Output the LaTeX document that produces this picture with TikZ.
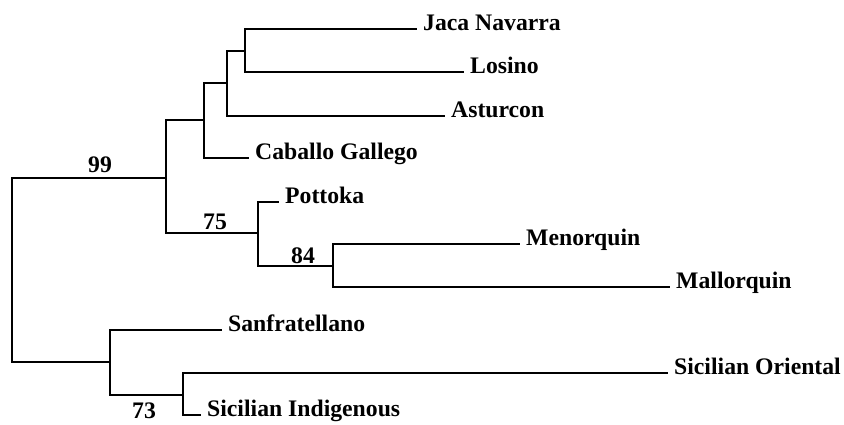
\documentclass[tikz,border=0pt]{standalone}
\usepackage{fontspec}
\setmainfont{Liberation Serif}
\begin{document}
\begin{tikzpicture}[x=1pt,y=-1pt,
  every node/.style={font=\fontsize{23.7pt}{28pt}\selectfont\bfseries},
  leaf/.style={anchor=west,inner xsep=6pt,inner ysep=0pt,text height=0.66em,text depth=0.36em},
  boot/.style={inner sep=0pt},
  br/.style={line width=1.3pt,line join=miter},
  brthick/.style={line width=2pt,line join=miter}]
\useasboundingbox (0,0) rectangle (844,424);
% internal nodes
\coordinate (root) at (12,270);
\coordinate (n4) at (166,178);
\coordinate (n3) at (204,120);
\coordinate (n2) at (227,83);
\coordinate (n1) at (245,51);
\coordinate (n5) at (258,233);
\coordinate (n6) at (333,266);
\coordinate (n7) at (110,362);
\coordinate (n8) at (183,395);
% leaves
\node[leaf] (jaca) at (417,29) {Jaca Navarra};
\node[leaf] (losino) at (464,72) {Losino};
\node[leaf] (asturcon) at (445,116) {Asturcon};
\node[leaf] (caballo) at (249,158) {Caballo Gallego};
\node[leaf] (pottoka) at (279,202) {Pottoka};
\node[leaf] (menorquin) at (520,244) {Menorquin};
\node[leaf] (mallorquin) at (670,287) {Mallorquin};
\node[leaf] (sanfra) at (222,330) {Sanfratellano};
\node[leaf] (sicor) at (668,373) {Sicilian Oriental};
\node[leaf] (sicind) at (201,415) {Sicilian Indigenous};
% bootstrap values
\node[boot] (b99) at (100,165) {99};
\node[boot] (b75) at (215,222) {75};
\node[boot] (b84) at (303,256) {84};
\node[boot] (b73) at (144,411) {73};
% branches
\draw[br] (root) |- (n4);
\draw[br] (root) |- (n7);
\draw[br] (n4) |- (n3);
\draw[br] (n4) |- (n5);
\draw[br] (n3) |- (n2);
\draw[br] (n3) |- (caballo.west);
\draw[brthick] (n2) |- (n1);
\draw[brthick] (n2) |- (asturcon.west);
\draw[br] (n1) |- (jaca.west);
\draw[br] (n1) |- (losino.west);
\draw[br] (n5) |- (pottoka.west);
\draw[brthick] (n5 |- pottoka.west) -- (pottoka.west);
\draw[br] (n5) |- (n6);
\draw[brthick] (n5 |- n6) -- (n6);
\draw[br] (n6) |- (menorquin.west);
\draw[br] (n6) |- (mallorquin.west);
\draw[brthick] (n7) |- (sanfra.west);
\draw[brthick] (n7) |- (n8);
\draw[br] (n8) |- (sicor.west);
\draw[br] (n8) |- (sicind.west);
\end{tikzpicture}
\end{document}
